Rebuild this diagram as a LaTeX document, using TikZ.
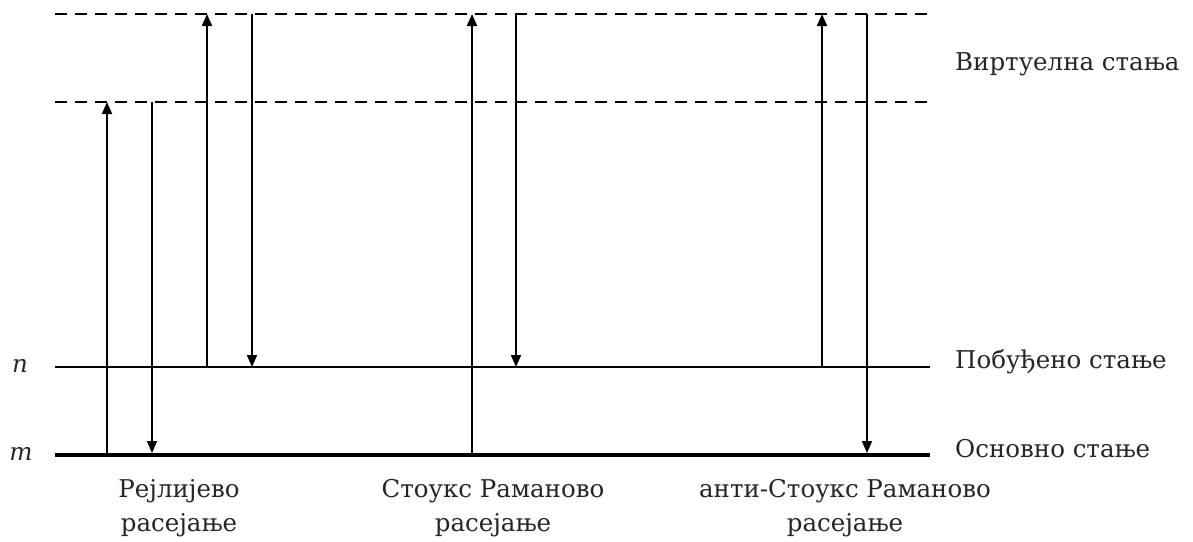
\documentclass[tikz,border=0pt]{standalone}
\usepackage{fontspec}
\setmainfont{DejaVu Serif}
\usetikzlibrary{arrows.meta}
\tikzset{
  lvl/.style={line width=1.8pt},
  gnd/.style={line width=3.6pt},
  virt/.style={line width=1.8pt, dash pattern=on 12pt off 8pt},
  tr/.style={line width=1.8pt, -{Triangle[length=12pt,width=10pt]}},
  lbl/.style={font=\fontsize{24.5}{34}\selectfont, inner sep=0pt, text=black!85},
  rlbl/.style={lbl, anchor=base west},
  blbl/.style={lbl, align=center, anchor=base},
  sym/.style={lbl, anchor=base, font=\fontsize{24.5}{30}\selectfont\itshape},
}
\begin{document}
\begin{tikzpicture}[x=1pt,y=-1pt]
\useasboundingbox (0,0) rectangle (1193,541);
% levels
\coordinate (v2L) at (55,14);  \coordinate (v2R) at (930,14);
\coordinate (v1L) at (55,102); \coordinate (v1R) at (930,102);
\coordinate (nL) at (55,367);  \coordinate (nR) at (930,367);
\coordinate (mL) at (55,455);  \coordinate (mR) at (930,455);
\draw[virt] (v2L) -- (v2R);
\draw[virt] (v1L) -- (v1R);
\draw[lvl] (nL) -- (nR);
\draw[gnd] (mL) -- (mR);
% labels
\node[sym] (nlab) at (20,372) {n};
\node[sym] (mlab) at (21,460) {m};
\node[rlbl] (virtlab) at (955,70) {Виртуелна стања};
\node[rlbl] (exlab) at (955,368) {Побуђено стање};
\node[rlbl] (grlab) at (955,457) {Основно стање};
\node[blbl] (ray) at (179,531) {Рејлијево\\расејање};
\node[blbl] (sto) at (493,531) {Стоукс Раманово\\расејање};
\node[blbl] (ast) at (845,531) {анти-Стоукс Раманово\\расејање};
% Rayleigh
\coordinate (a1b) at (107,453); \coordinate (a1t) at (107,102);
\coordinate (a2t) at (152,102); \coordinate (a2b) at (152,453);
\draw[tr] (a1b) -- (a1t);
\draw[tr] (a2t) -- (a2b);
% second pair
\coordinate (b1b) at (207,367); \coordinate (b1t) at (207,14);
\coordinate (b2t) at (252,14);  \coordinate (b2b) at (252,367);
\draw[tr] (b1b) -- (b1t);
\draw[tr] (b2t) -- (b2b);
% Stokes
\coordinate (c1b) at (472,453); \coordinate (c1t) at (472,14);
\coordinate (c2t) at (516,14);  \coordinate (c2b) at (516,367);
\draw[tr] (c1b) -- (c1t);
\draw[tr] (c2t) -- (c2b);
% anti-Stokes
\coordinate (d1b) at (822,367); \coordinate (d1t) at (822,14);
\coordinate (d2t) at (867,14);  \coordinate (d2b) at (867,453);
\draw[tr] (d1b) -- (d1t);
\draw[tr] (d2t) -- (d2b);
\end{tikzpicture}
\end{document}
